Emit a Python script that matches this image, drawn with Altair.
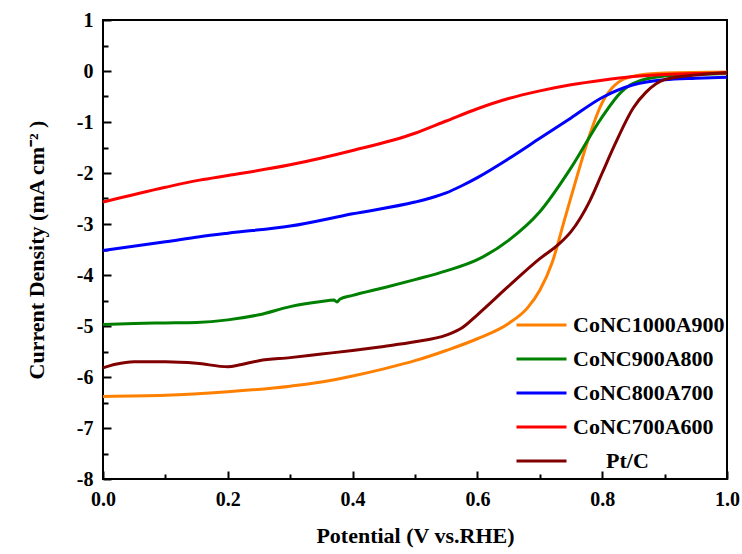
import altair as alt
import pandas as pd

# ---- data ----
series_names = ["CoNC1000A900", "CoNC900A800", "CoNC800A700", "CoNC700A600", "Pt/C"]
series_colors = ["#FF8000", "#008000", "#0000FF", "#FF0000", "#800000"]

orange_v = [0, 0.1, 0.2, 0.3, 0.35, 0.4, 0.45, 0.5, 0.55, 0.6, 0.65, 0.68, 0.7, 0.72, 0.74, 0.76, 0.78, 0.8, 0.82, 0.85, 0.9, 1.0]
orange_j = [-6.38, -6.36, -6.29, -6.18, -6.10, -5.98, -5.84, -5.68, -5.48, -5.25, -4.95, -4.65, -4.30, -3.75, -2.90, -2.05, -1.25, -0.62, -0.28, -0.10, -0.04, -0.02]

green_v = [0, 0.05, 0.1, 0.15, 0.2, 0.25, 0.3, 0.35, 0.37, 0.375, 0.38, 0.4, 0.45, 0.5, 0.55, 0.6, 0.65, 0.7, 0.75, 0.8, 0.83, 0.85, 0.9, 0.95, 1.0]
green_j = [-4.97, -4.95, -4.94, -4.93, -4.88, -4.78, -4.62, -4.52, -4.49, -4.53, -4.47, -4.40, -4.25, -4.09, -3.92, -3.70, -3.32, -2.76, -1.90, -0.90, -0.42, -0.24, -0.10, -0.07, -0.05]

blue_v = [0, 0.1, 0.155, 0.2, 0.3, 0.4, 0.5, 0.525, 0.55, 0.575, 0.6, 0.65, 0.7, 0.75, 0.8, 0.85, 0.9, 0.95, 1.0]
blue_j = [-3.52, -3.35, -3.25, -3.18, -3.04, -2.80, -2.57, -2.49, -2.39, -2.25, -2.09, -1.72, -1.32, -0.92, -0.52, -0.27, -0.17, -0.14, -0.12]

red_v = [0, 0.1, 0.155, 0.2, 0.3, 0.4, 0.5, 0.55, 0.6, 0.65, 0.7, 0.75, 0.8, 0.85, 0.9, 0.95, 1.0]
red_j = [-2.57, -2.28, -2.14, -2.05, -1.84, -1.56, -1.22, -0.98, -0.74, -0.54, -0.39, -0.27, -0.18, -0.11, -0.07, -0.05, -0.04]

ptc_v = [0, 0.02, 0.05, 0.1, 0.15, 0.2, 0.22, 0.25, 0.3, 0.35, 0.4, 0.45, 0.5, 0.55, 0.575, 0.6, 0.65, 0.7, 0.73, 0.75, 0.78, 0.8, 0.82, 0.85, 0.87, 0.9, 0.95, 1.0]
ptc_j = [-5.82, -5.75, -5.70, -5.70, -5.73, -5.80, -5.76, -5.68, -5.62, -5.55, -5.48, -5.40, -5.31, -5.18, -5.04, -4.78, -4.22, -3.68, -3.40, -3.15, -2.55, -2.00, -1.45, -0.72, -0.42, -0.17, -0.08, -0.03]

x_major = [0.0, 0.2, 0.4, 0.6, 0.8, 1.0]
x_minor = [0.1, 0.3, 0.5, 0.7, 0.9]
y_major = [-8, -7, -6, -5, -4, -3, -2, -1, 0, 1]
y_minor = [-7.5, -6.5, -5.5, -4.5, -3.5, -2.5, -1.5, -0.5, 0.5]

xs = [orange_v, green_v, blue_v, red_v, ptc_v]
ys = [orange_j, green_j, blue_j, red_j, ptc_j]
rows = []
for name, vv, jj in zip(series_names, xs, ys):
    for i, (v, j) in enumerate(zip(vv, jj)):
        rows.append({"series": name, "v": v, "j": j, "order": i})
df = pd.DataFrame(rows)

FONT = "Liberation Serif"

x_scale = alt.Scale(domain=[0, 1], nice=False, zero=False)
y_scale = alt.Scale(domain=[-8, 1], nice=False, zero=False)

# zero-width space first so the leading spaces survive Vega's text trim
PAD = "\u200b" + "\u2002" * 3

lines = alt.Chart(df).mark_line(strokeWidth=3, interpolate="monotone").encode(
    x=alt.X("v:Q", scale=x_scale,
            axis=alt.Axis(values=x_major, tickSize=8, offset=-8, domain=False, grid=False,
                          orient="bottom", labelPadding=10, labelFlush=False,
                          labelExpr="format(datum.value, '.1f')",
                          title="Potential (V vs.RHE)", titlePadding=16)),
    y=alt.Y("j:Q", scale=y_scale,
            axis=alt.Axis(values=y_major, tickSize=8, offset=-8, domain=False, grid=False,
                          orient="left", labelPadding=10, labelFlush=False,
                          labelExpr="'' + datum.value",
                          title="Current Density (mA cm\u207b\u00b2 )", titlePadding=28)),
    color=alt.Color("series:N",
                    scale=alt.Scale(domain=series_names, range=series_colors),
                    legend=alt.Legend(orient="none", legendX=412, legendY=294,
                                      symbolType="stroke", symbolSize=2500,
                                      symbolStrokeWidth=3, clipHeight=22,
                                      rowPadding=12, labelFont=FONT, labelFontSize=22,
                                      labelFontWeight="bold", labelColor="black",
                                      labelOffset=5, padding=0, title=None,
                                      labelLimit=400,
                                      labelExpr="datum.label == 'Pt/C' ? '" + PAD + "Pt/C' : datum.label")),
    order="order:Q",
)

minor = alt.Chart(df).mark_line(opacity=0).encode(
    x=alt.X("v:Q", scale=x_scale,
            axis=alt.Axis(values=x_minor, tickSize=5, offset=-5, domain=False, grid=False,
                          orient="bottom", labels=False, title="")),
    y=alt.Y("j:Q", scale=y_scale,
            axis=alt.Axis(values=y_minor, tickSize=5, offset=-5, domain=False, grid=False,
                          orient="left", labels=False, title="")),
    detail="series:N",
    order="order:Q",
)

chart = alt.layer(lines, minor).resolve_axis(x="independent", y="independent").properties(
    width=624, height=459,
    autosize=alt.AutoSizeParams(type="none"),
    padding={"left": 103, "top": 20, "right": 15, "bottom": 75},
    background="white",
).configure_view(
    stroke="black", strokeWidth=2
).configure_axis(
    labelFont=FONT, labelFontSize=20, labelFontWeight="bold", labelColor="black",
    titleFont=FONT, titleFontSize=22, titleFontWeight="bold", titleColor="black",
    tickColor="black", tickWidth=2,
)

chart.save("out.html", embed_options={"renderer": "svg", "actions": False})
